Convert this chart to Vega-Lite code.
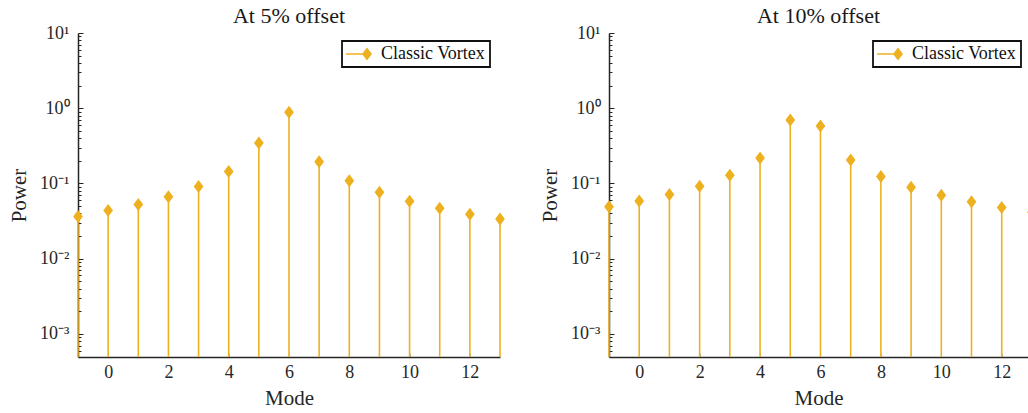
{
  "$schema": "https://vega.github.io/schema/vega-lite/v6.json",
  "background": "white",
  "padding": {"left": 8, "top": 5, "right": 0, "bottom": 0},
  "autosize": {"type": "pad"},
  "datasets": {
    "p5": [
      {"mode": -1, "power": 0.0363, "series": "Classic Vortex"},
      {"mode": 0, "power": 0.0436, "series": "Classic Vortex"},
      {"mode": 1, "power": 0.0525, "series": "Classic Vortex"},
      {"mode": 2, "power": 0.0665, "series": "Classic Vortex"},
      {"mode": 3, "power": 0.0912, "series": "Classic Vortex"},
      {"mode": 4, "power": 0.1445, "series": "Classic Vortex"},
      {"mode": 5, "power": 0.345, "series": "Classic Vortex"},
      {"mode": 6, "power": 0.885, "series": "Classic Vortex"},
      {"mode": 7, "power": 0.195, "series": "Classic Vortex"},
      {"mode": 8, "power": 0.1086, "series": "Classic Vortex"},
      {"mode": 9, "power": 0.0766, "series": "Classic Vortex"},
      {"mode": 10, "power": 0.058, "series": "Classic Vortex"},
      {"mode": 11, "power": 0.0469, "series": "Classic Vortex"},
      {"mode": 12, "power": 0.039, "series": "Classic Vortex"},
      {"mode": 13, "power": 0.0338, "series": "Classic Vortex"}
    ],
    "p10": [
      {"mode": -1, "power": 0.0489, "series": "Classic Vortex"},
      {"mode": 0, "power": 0.0587, "series": "Classic Vortex"},
      {"mode": 1, "power": 0.0713, "series": "Classic Vortex"},
      {"mode": 2, "power": 0.092, "series": "Classic Vortex"},
      {"mode": 3, "power": 0.129, "series": "Classic Vortex"},
      {"mode": 4, "power": 0.218, "series": "Classic Vortex"},
      {"mode": 5, "power": 0.699, "series": "Classic Vortex"},
      {"mode": 6, "power": 0.581, "series": "Classic Vortex"},
      {"mode": 7, "power": 0.205, "series": "Classic Vortex"},
      {"mode": 8, "power": 0.124, "series": "Classic Vortex"},
      {"mode": 9, "power": 0.0893, "series": "Classic Vortex"},
      {"mode": 10, "power": 0.0698, "series": "Classic Vortex"},
      {"mode": 11, "power": 0.057, "series": "Classic Vortex"},
      {"mode": 12, "power": 0.0479, "series": "Classic Vortex"},
      {"mode": 13, "power": 0.0415, "series": "Classic Vortex"}
    ]
  },
  "config": {
    "font": "Liberation Serif",
    "view": {"stroke": null},
    "axis": {
      "grid": false,
      "domainColor": "#262626",
      "domainWidth": 1.5,
      "tickColor": "#262626",
      "labelColor": "#262626",
      "labelFont": "Liberation Serif",
      "labelFontSize": 18,
      "titleFont": "Liberation Serif",
      "titleFontSize": 21,
      "titleFontWeight": "normal",
      "titleColor": "#262626",
      "labelOverlap": false,
      "labelBound": false,
      "labelFlush": false
    },
    "title": {
      "font": "Liberation Serif",
      "fontSize": 22,
      "fontWeight": "normal",
      "color": "#1a1a1a",
      "frame": "group",
      "offset": -4
    },
    "legend": {
      "orient": "none",
      "legendX": 264,
      "legendY": 8,
      "title": null,
      "symbolType": "M-1.125,-0.094H1.5V0.094H-1.125Z M1.5,-0.8125L2.125,0L1.5,0.8125L0.875,0Z",
      "symbolSize": 256,
      "symbolStrokeWidth": 0,
      "symbolOpacity": 1,
      "labelFont": "Liberation Serif",
      "labelFontSize": 18,
      "labelColor": "#111111",
      "labelOffset": 17,
      "padding": 4,
      "strokeColor": "#111111",
      "fillColor": "white",
      "cornerRadius": 0
    }
  },
  "bounds": "flush",
  "spacing": 109,
  "resolve": {"legend": {"color": "independent"}, "scale": {"color": "independent"}},
  "hconcat": [
    {
      "width": 422,
      "height": 324,
      "title": {"text": "At 5% offset", "font": "Liberation Serif"},
      "data": {"name": "p5"},
      "layer": [
        {
          "mark": {"type": "rule", "color": "#EDB120", "strokeWidth": 1.6},
          "encoding": {
            "x": {"field": "mode", "type": "quantitative",
                  "scale": {"domain": [-1, 13], "nice": false, "zero": false},
                  "axis": {"title": "Mode", "values": [0, 2, 4, 6, 8, 10, 12], "tickSize": -4, "tickColor": "#b0b0b0", "labelPadding": 10, "titlePadding": 6, "labelFont": "Liberation Serif", "titleFont": "Liberation Serif"}},
            "y": {"field": "power", "type": "quantitative",
                  "scale": {"type": "log", "domain": [0.000494, 10], "nice": false},
                  "axis": {
                    "title": "Power",
                    "labelFont": "Liberation Serif", "titleFont": "Liberation Serif",
                    "values": [0.0006, 0.0007, 0.0008, 0.0009, 0.001, 0.002, 0.003, 0.004, 0.005, 0.006, 0.007, 0.008, 0.009, 0.01, 0.02, 0.03, 0.04, 0.05, 0.06, 0.07, 0.08, 0.09, 0.1, 0.2, 0.3, 0.4, 0.5, 0.6, 0.7, 0.8, 0.9, 1, 2, 3, 4, 5, 6, 7, 8, 9, 10],
                    "labelExpr": "datum.value == 10 ? '10¹' : datum.value == 1 ? '10⁰' : datum.value == 0.1 ? '10⁻¹' : datum.value == 0.01 ? '10⁻²' : datum.value == 0.001 ? '10⁻³' : ''",
                    "tickSize": {"condition": {"test": "datum.value == 10 || datum.value == 1 || datum.value == 0.1 || datum.value == 0.01 || datum.value == 0.001", "value": -5}, "value": -3},
                    "labelPadding": 14,
                    "titlePadding": 10
                  }},
            "y2": {"datum": 0.000494}
          }
        },
        {
          "mark": {"type": "point", "filled": true, "opacity": 1, "shape": "M0,-1L0.75,0L0,1L-0.75,0Z", "size": 169},
          "encoding": {
            "x": {"field": "mode", "type": "quantitative"},
            "y": {"field": "power", "type": "quantitative"},
            "color": {"field": "series", "type": "nominal", "scale": {"range": ["#EDB120"]},
                      "legend": {"labelFont": "Liberation Serif", "labelFontSize": 18, "encode": {"legend": {"update": {"strokeWidth": {"value": 1.8}}}}}}
          }
        }
      ]
    },
    {
      "width": 419,
      "height": 324,
      "title": {"text": "At 10% offset", "font": "Liberation Serif"},
      "data": {"name": "p10"},
      "layer": [
        {
          "transform": [{"filter": "datum.mode < 12.5"}],
          "mark": {"type": "rule", "color": "#EDB120", "strokeWidth": 1.6},
          "encoding": {
            "x": {"field": "mode", "type": "quantitative",
                  "scale": {"domain": [-1, 12.87], "nice": false, "zero": false},
                  "axis": {"title": "Mode", "values": [0, 2, 4, 6, 8, 10, 12], "tickSize": -4, "tickColor": "#b0b0b0", "labelPadding": 10, "titlePadding": 6, "labelFont": "Liberation Serif", "titleFont": "Liberation Serif"}},
            "y": {"field": "power", "type": "quantitative",
                  "scale": {"type": "log", "domain": [0.000494, 10], "nice": false},
                  "axis": {
                    "title": "Power",
                    "labelFont": "Liberation Serif", "titleFont": "Liberation Serif",
                    "values": [0.0006, 0.0007, 0.0008, 0.0009, 0.001, 0.002, 0.003, 0.004, 0.005, 0.006, 0.007, 0.008, 0.009, 0.01, 0.02, 0.03, 0.04, 0.05, 0.06, 0.07, 0.08, 0.09, 0.1, 0.2, 0.3, 0.4, 0.5, 0.6, 0.7, 0.8, 0.9, 1, 2, 3, 4, 5, 6, 7, 8, 9, 10],
                    "labelExpr": "datum.value == 10 ? '10¹' : datum.value == 1 ? '10⁰' : datum.value == 0.1 ? '10⁻¹' : datum.value == 0.01 ? '10⁻²' : datum.value == 0.001 ? '10⁻³' : ''",
                    "tickSize": {"condition": {"test": "datum.value == 10 || datum.value == 1 || datum.value == 0.1 || datum.value == 0.01 || datum.value == 0.001", "value": -5}, "value": -3},
                    "labelPadding": 14,
                    "titlePadding": 10
                  }},
            "y2": {"datum": 0.000494}
          }
        },
        {
          "transform": [{"filter": "datum.mode < 12.5"}],
          "mark": {"type": "point", "filled": true, "opacity": 1, "shape": "M0,-1L0.75,0L0,1L-0.75,0Z", "size": 169},
          "encoding": {
            "x": {"field": "mode", "type": "quantitative"},
            "y": {"field": "power", "type": "quantitative"},
            "color": {"field": "series", "type": "nominal", "scale": {"range": ["#EDB120"]},
                      "legend": {"labelFont": "Liberation Serif", "labelFontSize": 18, "encode": {"legend": {"update": {"strokeWidth": {"value": 1.8}}}}}}
          }
        },
        {
          "transform": [{"filter": "datum.mode > 12.5"}],
          "mark": {"type": "point", "filled": true, "opacity": 1, "clip": true, "color": "#EDB120", "shape": "M0,-1L0.75,0L0,1L-0.75,0Z", "size": 169},
          "encoding": {
            "x": {"field": "mode", "type": "quantitative"},
            "y": {"field": "power", "type": "quantitative"}
          }
        }
      ]
    }
  ]
}
